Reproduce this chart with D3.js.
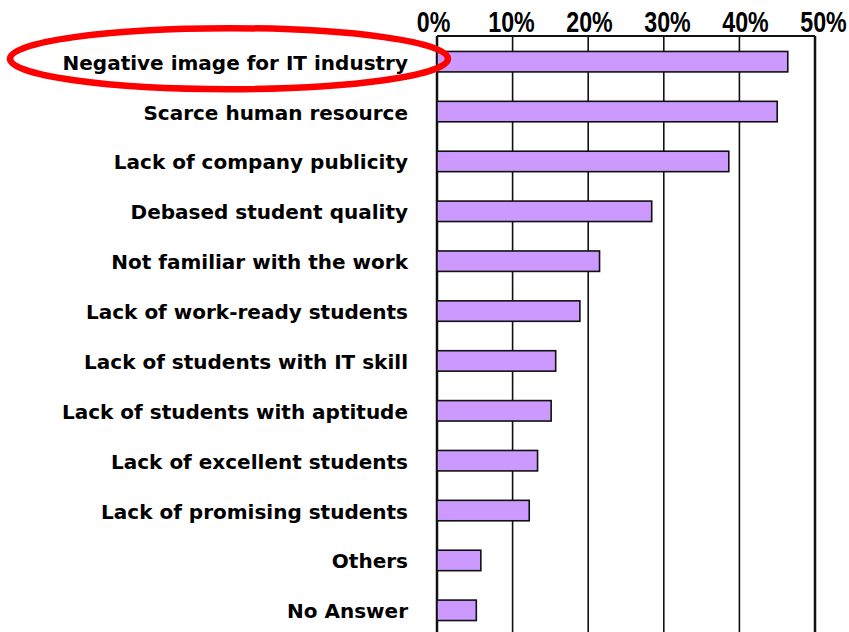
<!DOCTYPE html>
<html>
<head>
<meta charset="utf-8">
<script src="https://cdn.jsdelivr.net/npm/d3@7"></script>
<style>
  body { margin: 0; background: #fff; }
  svg { display: block; }
</style>
</head>
<body>
<script>
// Reasons given (categories) and share of answers (%)
var categories = [
    "Negative image for IT industry",
    "Scarce human resource",
    "Lack of company publicity",
    "Debased student quality",
    "Not familiar with the work",
    "Lack of work-ready students",
    "Lack of students with IT skill",
    "Lack of students with aptitude",
    "Lack of excellent students",
    "Lack of promising students",
    "Others",
    "No Answer"
];
var values = [46.4, 45.0, 38.6, 28.4, 21.5, 18.9, 15.7, 15.1, 13.3, 12.2, 5.8, 5.2];
var tickValues = [0, 10, 20, 30, 40, 50];

var width = 849, height = 632;

var svg = d3.select("body").append("svg")
    .attr("width", width)
    .attr("height", height);

var x = d3.scaleLinear().domain([0, 50]).range([437, 815]);
// the percent labels in the original sit a bit wider apart than the grid
var xLabel = d3.scaleLinear().domain([0, 50]).range([433, 823]);

var y = d3.scaleBand()
    .domain(categories)
    .range([36, 636])
    .paddingInner(0.59)
    .paddingOuter(0.31);

// Vertical grid lines
svg.selectAll(".grid")
    .data(tickValues)
    .enter().append("line")
    .attr("class", "grid")
    .attr("x1", function(d) { return x(d); })
    .attr("x2", function(d) { return x(d); })
    .attr("y1", 36)
    .attr("y2", height)
    .attr("stroke", "#111")
    .attr("stroke-width", function(d) { return (d === 0 || d === 50) ? 2.5 : 1.6; });

// Top border of the plot
svg.append("line")
    .attr("x1", x(0))
    .attr("x2", x(50))
    .attr("y1", 36)
    .attr("y2", 36)
    .attr("stroke", "#111")
    .attr("stroke-width", 2);

// Bars
svg.selectAll(".bar")
    .data(values)
    .enter().append("rect")
    .attr("class", "bar")
    .attr("x", x(0))
    .attr("y", function(d, i) { return y(categories[i]); })
    .attr("width", function(d) { return x(d) - x(0); })
    .attr("height", y.bandwidth())
    .attr("fill", "#cc99ff")
    .attr("stroke", "#111")
    .attr("stroke-width", 1.6);

// Top axis with percent labels
var xAxis = d3.axisTop(xLabel)
    .tickValues(tickValues)
    .tickSize(0)
    .tickPadding(4)
    .tickFormat(function(d) { return d + "%"; });

var gx = svg.append("g")
    .attr("transform", "translate(0,36)")
    .call(xAxis);
gx.select(".domain").remove();
gx.selectAll("text")
    .attr("font-family", "'Liberation Sans', Arial, sans-serif")
    .attr("font-weight", "bold")
    .attr("font-size", 29)
    .attr("fill", "#000")
    .attr("transform", "scale(0.8,1)");

// Category labels
svg.selectAll(".label")
    .data(categories)
    .enter().append("text")
    .attr("class", "label")
    .attr("x", 408)
    .attr("y", function(d) { return y(d) + y.bandwidth() / 2; })
    .attr("dy", "0.4em")
    .attr("text-anchor", "end")
    .attr("font-family", "'DejaVu Sans', sans-serif")
    .attr("font-weight", "bold")
    .attr("font-size", 20)
    .attr("fill", "#000")
    .text(function(d) { return d; });

// Red highlight around the first category
svg.append("ellipse")
    .attr("cx", 229)
    .attr("cy", y(categories[0]) + y.bandwidth() / 2 - 3)
    .attr("rx", 219)
    .attr("ry", 30.5)
    .attr("fill", "none")
    .attr("stroke", "#ff0000")
    .attr("stroke-width", 6.5);
</script>
</body>
</html>
